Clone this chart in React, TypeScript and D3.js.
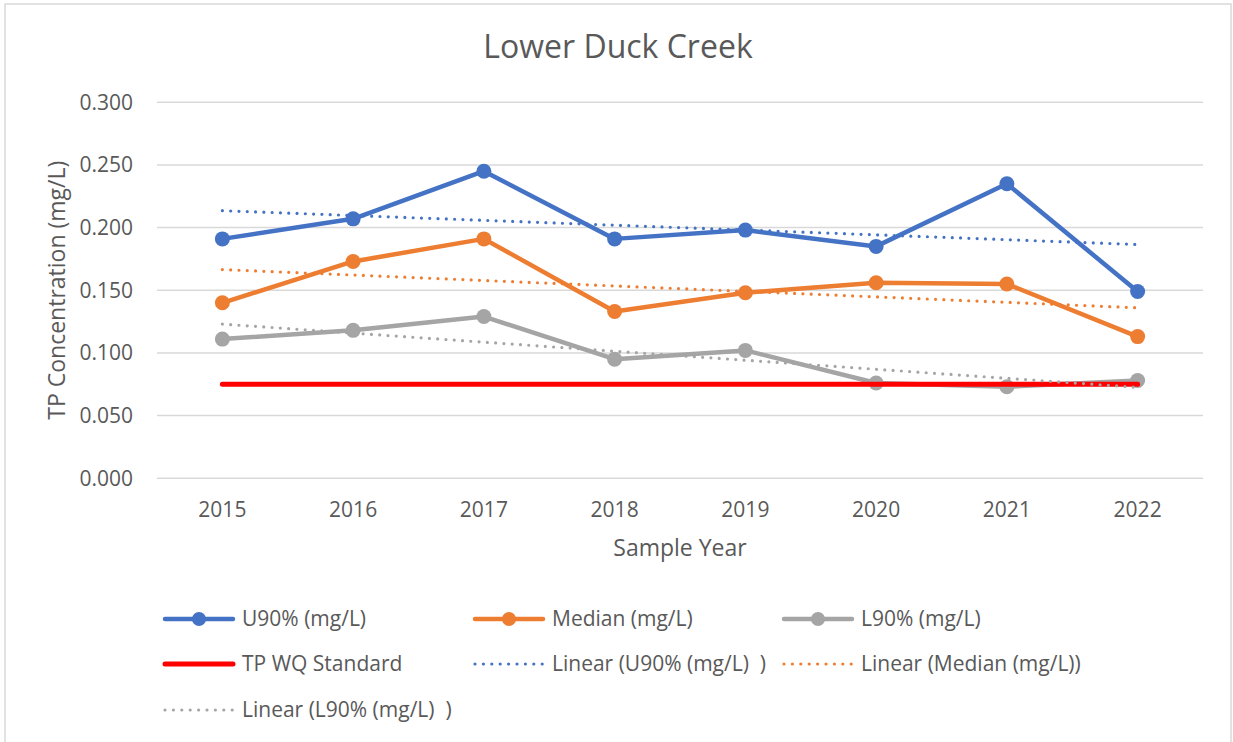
import React from "react";
import * as d3 from "d3";

const years = ["2015", "2016", "2017", "2018", "2019", "2020", "2021", "2022"];
const u90 = [0.191, 0.207, 0.245, 0.191, 0.198, 0.185, 0.235, 0.149];
const median = [0.140, 0.173, 0.191, 0.133, 0.148, 0.156, 0.155, 0.113];
const l90 = [0.111, 0.118, 0.129, 0.095, 0.102, 0.076, 0.073, 0.078];
const standard = [0.075, 0.075, 0.075, 0.075, 0.075, 0.075, 0.075, 0.075];
// trendline endpoints (first year, last year)
const trendU90 = [0.2135, 0.1865];
const trendMedian = [0.1665, 0.136];
const trendL90 = [0.123, 0.0725];
const yTicks = [0, 0.05, 0.1, 0.15, 0.2, 0.25, 0.3];

const BLUE = "#4472C4";
const ORANGE = "#ED7D31";
const GRAY = "#A5A5A5";
const RED = "#FF0000";
const TEXT = "#595959";
const FONT = "'Open Sans', sans-serif";

export default function App() {
  const W = 1233, H = 742;
  const left = 157, right = 1203, top = 102.3, bottom = 478.2;
  const x = d3.scaleBand<string>().domain(years).range([left, right]);
  const cx = (y: string) => (x(y) as number) + x.bandwidth() / 2;
  const y = d3.scaleLinear().domain([0, 0.3]).range([bottom, top]);
  const line = d3
    .line<number>()
    .x((_, i) => cx(years[i]))
    .y((d) => y(d));
  const trendLine = (t: number[]) =>
    d3
      .line<number>()
      .x((_, i) => cx(i === 0 ? years[0] : years[years.length - 1]))
      .y((d) => y(d))(t) as string;

  const series = [
    { data: u90, color: BLUE },
    { data: median, color: ORANGE },
    { data: l90, color: GRAY },
  ];
  const trends = [
    { data: trendU90, color: BLUE },
    { data: trendMedian, color: ORANGE },
    { data: trendL90, color: GRAY },
  ];

  const legendCols = [163, 473, 782];
  const legendRows = [619, 664, 710];
  const legendItems = [
    { label: "U90% (mg/L)", color: BLUE, kind: "marker" },
    { label: "Median (mg/L)", color: ORANGE, kind: "marker" },
    { label: "L90% (mg/L)", color: GRAY, kind: "marker" },
    { label: "TP WQ Standard", color: RED, kind: "solid" },
    { label: "Linear (U90% (mg/L)  )", color: BLUE, kind: "dot" },
    { label: "Linear (Median (mg/L))", color: ORANGE, kind: "dot" },
    { label: "Linear (L90% (mg/L)  )", color: GRAY, kind: "dot" },
  ];

  return (
    <svg
      width={W}
      height={H}
      style={{ position: "absolute", left: 0, top: 0, background: "#fff" }}
      fontFamily={FONT}
    >
      <rect x={0} y={0} width={W} height={H} fill="#fff" />
      <rect x={5} y={4} width={1226} height={780} fill="#fff" stroke="#D9D9D9" strokeWidth={1.5} />
      <text x={618} y={58} textAnchor="middle" fontSize={32} fill={TEXT}>
        Lower Duck Creek
      </text>
      {yTicks.map((t) => (
        <g key={t}>
          <line x1={left} x2={right} y1={y(t)} y2={y(t)} stroke="#D9D9D9" strokeWidth={1.5} />
          <text x={133} y={y(t)} dy="0.35em" textAnchor="end" fontSize={21} fill={TEXT}>
            {d3.format(".3f")(t)}
          </text>
        </g>
      ))}
      {years.map((yr) => (
        <text key={yr} x={cx(yr)} y={517} textAnchor="middle" fontSize={21} fill={TEXT}>
          {yr}
        </text>
      ))}
      <text x={(left + right) / 2} y={556} textAnchor="middle" fontSize={23} fill={TEXT}>
        Sample Year
      </text>
      <text
        transform={`translate(65, ${(top + bottom) / 2}) rotate(-90)`}
        textAnchor="middle"
        fontSize={23}
        fill={TEXT}
      >
        TP Concentration (mg/L)
      </text>
      {series.map((s, si) => (
        <g key={si}>
          <path d={line(s.data) as string} fill="none" stroke={s.color} strokeWidth={4.5} strokeLinejoin="round" />
          {s.data.map((v, i) => (
            <circle key={i} cx={cx(years[i])} cy={y(v)} r={7.5} fill={s.color} />
          ))}
        </g>
      ))}
      <path d={line(standard) as string} fill="none" stroke={RED} strokeWidth={5} strokeLinecap="round" />
      {trends.map((t, ti) => (
        <path
          key={ti}
          d={trendLine(t.data)}
          fill="none"
          stroke={t.color}
          strokeWidth={3.2}
          strokeLinecap="round"
          strokeDasharray="0 8.3"
        />
      ))}
      {legendItems.map((it, i) => {
        const lx = legendCols[i % 3];
        const ly = legendRows[Math.floor(i / 3)];
        return (
          <g key={i}>
            {it.kind === "dot" ? (
              <line x1={lx + 2} x2={lx + 70} y1={ly} y2={ly} stroke={it.color} strokeWidth={3.2} strokeLinecap="round" strokeDasharray="0 8.4" />
            ) : (
              <line x1={lx + 2} x2={lx + 70} y1={ly} y2={ly} stroke={it.color} strokeWidth={it.kind === "solid" ? 5 : 4.5} strokeLinecap="round" />
            )}
            {it.kind === "marker" && <circle cx={lx + 36} cy={ly} r={7} fill={it.color} />}
            <text x={lx + 79} y={ly} dy="0.35em" fontSize={21} fill={TEXT} style={{ whiteSpace: "pre" }}>
              {it.label}
            </text>
          </g>
        );
      })}
    </svg>
  );
}
